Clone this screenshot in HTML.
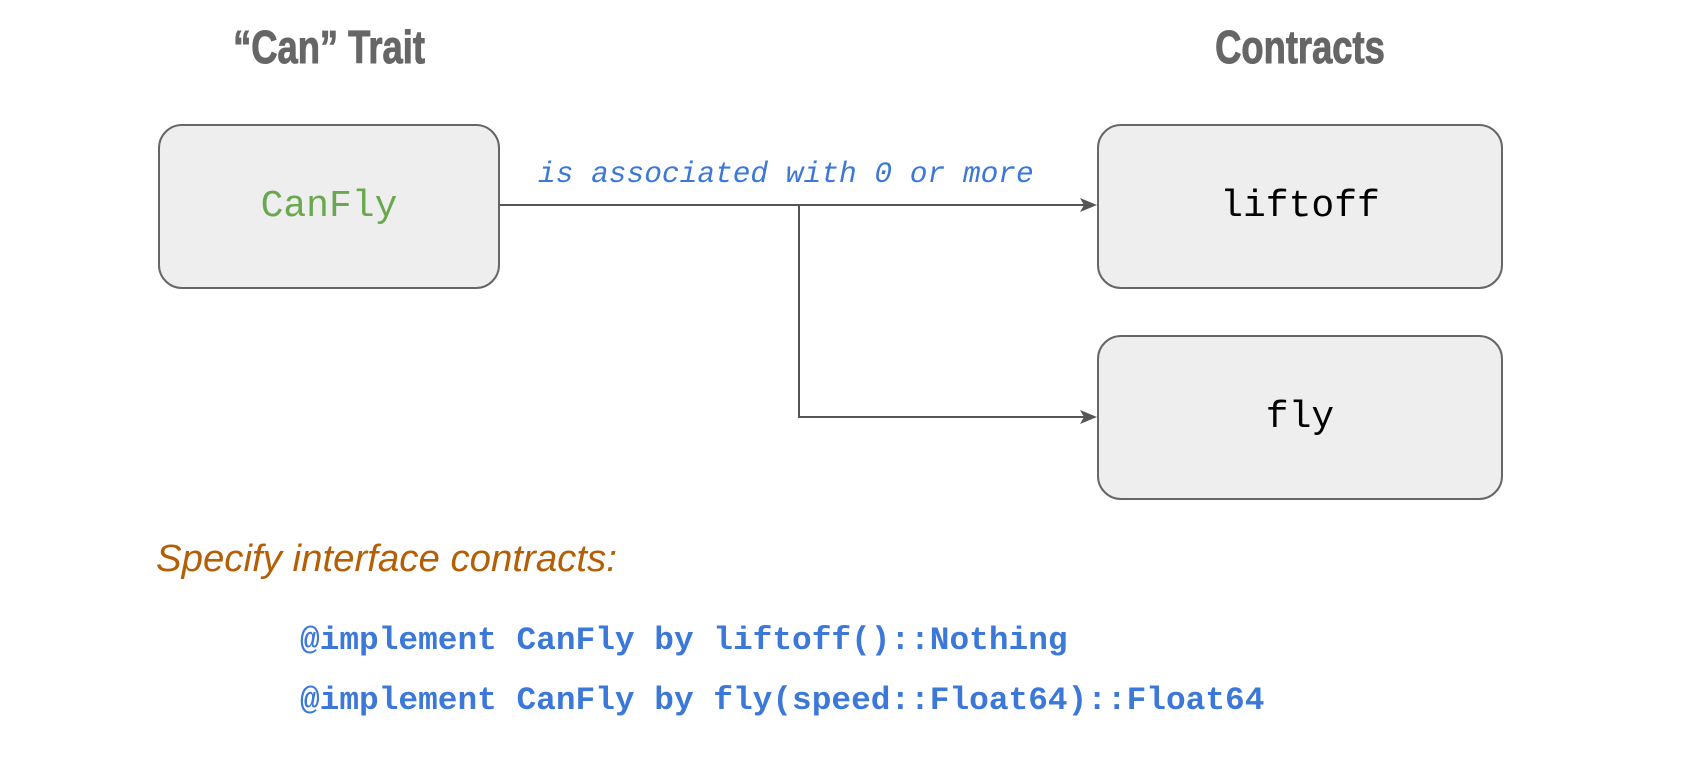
<!DOCTYPE html>
<html><head><meta charset="utf-8"><style>
body{margin:0;width:1702px;height:764px;background:#fff;overflow:hidden;position:relative}
.box{position:absolute;background:#eeeeee;border:2px solid #666;border-radius:24px;box-sizing:border-box;display:flex;align-items:center;justify-content:center;font-family:"Liberation Mono",monospace;font-size:38px}
.h{position:absolute;font-family:"Liberation Sans Narrow","Liberation Sans",sans-serif;font-weight:bold;color:#666;font-size:46px;transform:translateX(-50%) scaleX(0.79);white-space:nowrap;top:20px;-webkit-text-stroke:1px #666}
.code{position:absolute;left:300px;font-family:"Liberation Mono",monospace;font-weight:bold;color:#3c78d8;font-size:32.8px;white-space:nowrap}
</style></head><body>
<div class="h" style="left:329px">“Can” Trait</div>
<div class="h" style="left:1300px">Contracts</div>
<div class="box" style="left:158px;top:124px;width:342px;height:165px;color:#6aa84f">CanFly</div>
<div class="box" style="left:1097px;top:124px;width:406px;height:165px;color:#000">liftoff</div>
<div class="box" style="left:1097px;top:335px;width:406px;height:165px;color:#000">fly</div>
<svg style="position:absolute;left:0;top:0" width="1702" height="764">
<g stroke="#555" stroke-width="2" fill="none">
<path d="M500 205 H1093"/><path d="M799 205 V417 H1093"/>
</g>
<g fill="#555"><path d="M1080 198 L1097 205 L1080 212 L1084 205Z"/><path d="M1080 410 L1097 417 L1080 424 L1084 417Z"/></g>
<text x="538" y="182" font-family="Liberation Mono, monospace" font-style="italic" font-size="29.5" fill="#3c78d8">is associated with 0 or more</text>
</svg>
<div style="position:absolute;left:156px;top:537px;font-family:'Liberation Sans',sans-serif;font-style:italic;color:#b45f06;font-size:38.4px">Specify interface contracts:</div>
<div class="code" style="top:622px">@implement CanFly by liftoff()::Nothing</div>
<div class="code" style="top:682px">@implement CanFly by fly(speed::Float64)::Float64</div>
</body></html>
